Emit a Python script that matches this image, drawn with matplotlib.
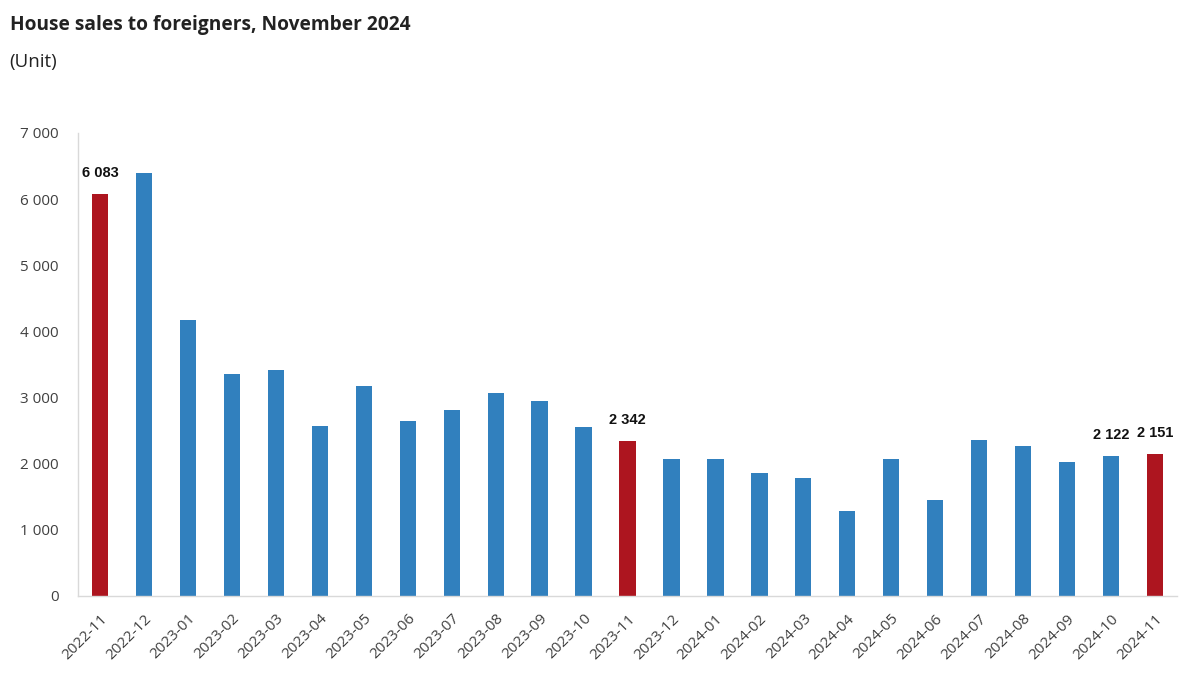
import matplotlib
matplotlib.use("Agg")
import matplotlib.pyplot as plt

months = ["2022-11", "2022-12", "2023-01", "2023-02", "2023-03", "2023-04", "2023-05",
          "2023-06", "2023-07", "2023-08", "2023-09", "2023-10", "2023-11", "2023-12",
          "2024-01", "2024-02", "2024-03", "2024-04", "2024-05", "2024-06", "2024-07",
          "2024-08", "2024-09", "2024-10", "2024-11"]
sales = [6083, 6395, 4168, 3357, 3420, 2570, 3170, 2640, 2810, 3065, 2945, 2555, 2342,
         2071, 2068, 1858, 1784, 1285, 2071, 1451, 2356, 2266, 2028, 2122, 2151]
highlight = ["2022-11", "2023-11", "2024-11"]
labelled = ["2022-11", "2023-11", "2024-10", "2024-11"]
yticks = [0, 1000, 2000, 3000, 4000, 5000, 6000, 7000]

BLUE = "#3180BE"
RED = "#AD151F"

def fmt(v):
    return f"{v:,}".replace(",", " ")

fig = plt.figure(figsize=(12.04, 6.89), dpi=100)
ax = fig.add_axes([0.0648, 0.135, 0.9128, 0.672])

x = list(range(len(months)))
colors = [RED if m in highlight else BLUE for m in months]
ax.bar(x, sales, width=0.37, color=colors, zorder=2)

for i, (m, v) in enumerate(zip(months, sales)):
    if m in labelled:
        ax.annotate(fmt(v), (i, v), xytext=(0, 10), textcoords="offset points",
                    ha="center", va="bottom", fontsize=10.5, fontweight="bold",
                    family="Liberation Sans", color="#111111")

ax.set_xlim(-0.5, len(months) - 0.5)
ax.set_ylim(0, 7000)
ax.set_yticks(yticks)
ax.set_yticklabels([fmt(t) for t in yticks], fontsize=11, color="#404040", family="Open Sans")
ax.set_xticks(x)
ax.set_xticklabels(months, rotation=45, ha="right", rotation_mode="anchor",
                   fontsize=11, color="#404040", family="Open Sans")
ax.tick_params(axis="both", length=0)
ax.tick_params(axis="y", pad=14)
ax.tick_params(axis="x", pad=11)
for s in ["top", "right"]:
    ax.spines[s].set_visible(False)
for s in ["left", "bottom"]:
    ax.spines[s].set_color("#D9D9D9")
    ax.spines[s].set_linewidth(1)

fig.text(0.008, 0.963, "House sales to foreigners, November 2024", fontsize=13.8,
         fontweight="bold", family="Open Sans", color="#222222", va="center", ha="left")
fig.text(0.008, 0.910, "(Unit)", fontsize=13.5, family="Open Sans", color="#222222",
         va="center", ha="left")

fig.savefig("out.png", dpi=100)
